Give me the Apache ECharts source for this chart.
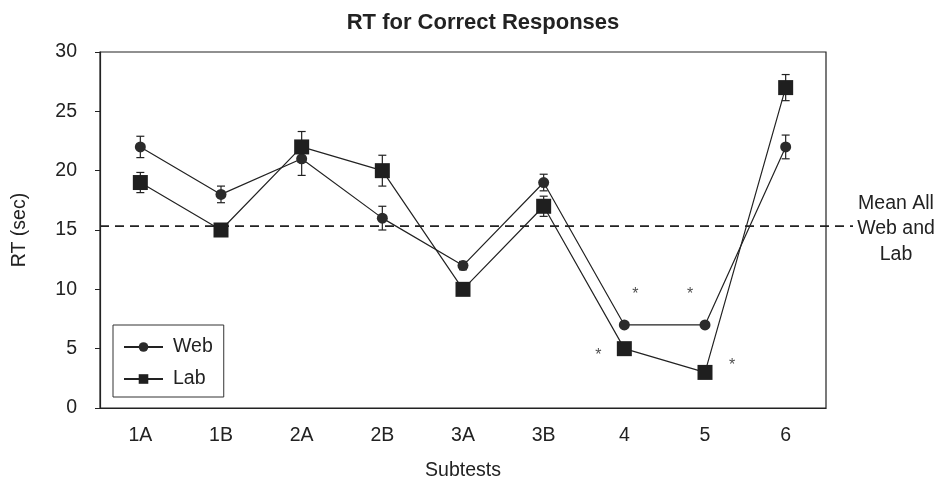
<!DOCTYPE html>
<html><head><meta charset="utf-8">
<script src="https://cdn.jsdelivr.net/npm/echarts@6/dist/echarts.min.js"></script>
<style>html,body{margin:0;padding:0;background:#fff}#c{width:937px;height:491px}</style>
</head><body><div id="c"></div>
<script>
const categories = ['1A','1B','2A','2B','3A','3B','4','5','6'];
const webValues = [22, 18, 21, 16, 12, 19, 7, 7, 22];
const webErrors = [0.9, 0.7, 1.4, 1.0, 0.35, 0.7, 0.2, 0.2, 1.0];
const labValues = [19, 15, 22, 20, 10, 17, 5, 3, 27];
const labErrors = [0.85, 0.4, 1.3, 1.3, 0.4, 0.85, 0.3, 0.3, 1.1];
const meanAll = 15.33;
const yTicks = [0, 5, 10, 15, 20, 25, 30];
const starCats = ['4', '5', '4', '5'];
const starValues = [9.7, 9.7, 4.55, 3.7];
const starDx = [11, -15, -26, 27];

const ink = '#222';
const font = 'Liberation Sans, Arial, sans-serif';
const fs = 19.5;

function errSeries(name, vals, errs) {
  return {
    type: 'custom', name: name + 'err', xAxisIndex: 0, yAxisIndex: 0, z: 1,
    data: vals.map((v, i) => [i, v - errs[i], v + errs[i]]),
    renderItem: function (params, api) {
      const lo = api.coord([api.value(0), api.value(1)]);
      const hi = api.coord([api.value(0), api.value(2)]);
      const w = 4;
      const st = { stroke: ink, lineWidth: 1.2 };
      return { type: 'group', children: [
        { type: 'line', shape: { x1: lo[0], y1: lo[1], x2: hi[0], y2: hi[1] }, style: st },
        { type: 'line', shape: { x1: lo[0] - w, y1: lo[1], x2: lo[0] + w, y2: lo[1] }, style: st },
        { type: 'line', shape: { x1: hi[0] - w, y1: hi[1], x2: hi[0] + w, y2: hi[1] }, style: st }
      ]};
    }
  };
}

const chart = echarts.init(document.getElementById('c'));
chart.setOption({
  animation: false,
  backgroundColor: '#fff',
  textStyle: { fontFamily: font, color: ink },
  title: { text: 'RT for Correct Responses', left: 478, textAlign: 'center', top: 7,
    textStyle: { fontSize: 22, fontWeight: 'bold', color: ink, fontFamily: font } },
  legend: {
    orient: 'vertical', left: 113, top: 325, data: ['Web', 'Lab'],
    itemWidth: 39, itemHeight: 12, itemGap: 12,
    padding: [12, 11, 8, 10], borderColor: '#333', borderWidth: 1,
    textStyle: { fontSize: fs, color: ink, fontFamily: font, padding: [0, 0, 0, 5] }
  },
  grid: [
    { left: 100, right: 111, top: 52, bottom: 83, show: true, borderColor: ink, borderWidth: 1.2 },
    { left: 100, right: 84, top: 52, bottom: 83 }
  ],
  xAxis: [
    { type: 'category', gridIndex: 0, data: categories, boundaryGap: true,
      axisLine: { lineStyle: { color: ink, width: 1.2 } }, axisTick: { show: false },
      axisLabel: { fontSize: fs, color: ink, margin: 18, fontFamily: font },
      name: 'Subtests', nameLocation: 'middle', nameGap: 53,
      nameTextStyle: { fontSize: fs, color: ink, fontFamily: font } },
    { type: 'value', gridIndex: 1, min: 0, max: 1, show: false }
  ],
  yAxis: [
    { type: 'value', gridIndex: 0, min: yTicks[0], max: yTicks[yTicks.length - 1], interval: 5,
      splitLine: { show: false },
      axisLine: { show: true, lineStyle: { color: ink, width: 1.2 } },
      axisTick: { show: true, length: 5, lineStyle: { color: ink } },
      axisLabel: { fontSize: fs, color: ink, margin: 23, fontFamily: font },
      name: 'RT (sec)', nameLocation: 'middle', nameGap: 70,
      nameTextStyle: { fontSize: fs, color: ink, fontFamily: font } },
    { type: 'value', gridIndex: 1, min: 0, max: 30, show: false }
  ],
  graphic: [{
    type: 'text', x: 896, y: 229, style: { text: 'Mean All\nWeb and\nLab', fontSize: fs, lineHeight: 25.5,
      fill: ink, align: 'center', verticalAlign: 'middle', fontFamily: font } }
  ],
  series: [
    { type: 'line', name: 'mean', xAxisIndex: 1, yAxisIndex: 1, symbol: 'none', silent: true,
      data: [[0, meanAll], [1, meanAll]], lineStyle: { color: ink, width: 1.8, type: [9, 6] } },
    errSeries('Web', webValues, webErrors),
    errSeries('Lab', labValues, labErrors),
    { type: 'line', name: 'Web', data: webValues, symbol: 'circle', symbolSize: 11, z: 3,
      itemStyle: { color: '#2b2b2b', borderWidth: 0 }, lineStyle: { color: ink, width: 1.2 } },
    { type: 'line', name: 'Lab', data: labValues, symbol: 'rect', symbolSize: 15, z: 4,
      itemStyle: { color: '#1f1f1f', borderWidth: 0 }, lineStyle: { color: ink, width: 1.2 } },
    { type: 'scatter', name: 'stars', symbolSize: 0, z: 5,
      data: starCats.map((c, i) => ({ value: [c, starValues[i]],
        label: { show: true, formatter: '*', offset: [starDx[i], 1.5], fontSize: 16, color: ink, position: 'inside' } })) }
  ]
});
</script></body></html>
